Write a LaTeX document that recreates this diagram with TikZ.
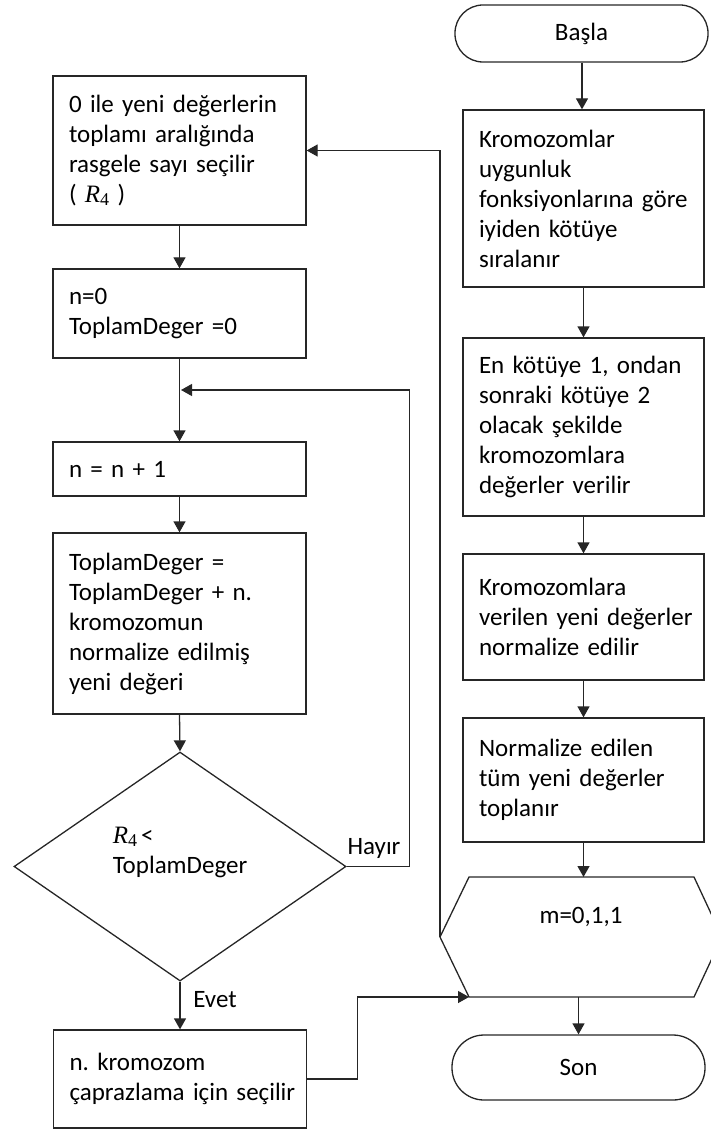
\documentclass[tikz,border=0pt]{standalone}
\usepackage{fontspec}
\setmainfont{Carlito}[WordSpace=0.8]
\newfontfamily\serifit{Liberation Serif}[WordSpace=0.8]
\usetikzlibrary{arrows.meta,shapes.geometric}
\newcommand\flowfont{\fontsize{25}{30}\selectfont}
% italic R with subscript 4, set like an equation object
\newcommand\Rfour{{\serifit\itshape R}\raisebox{-0.3ex}{\serifit\fontsize{18}{18}\selectfont 4}}
\hyphenpenalty=10000
\exhyphenpenalty=10000
\begin{document}
\begin{tikzpicture}[x=1pt,y=-1pt,
  line/.style={draw=black!85, line width=1.3pt},
  arr/.style={line, -{Triangle[length=11pt,width=12pt]}},
  procbox/.style={line, rectangle, align=left, inner xsep=16pt, inner ysep=0pt, font=\flowfont},
  leftbox/.style={procbox, text width=221pt},
  rightbox/.style={procbox, text width=209pt},
  terminal/.style={line, rectangle, font=\flowfont},
  plain/.style={inner sep=0pt, font=\flowfont, align=left}
]
\useasboundingbox (0,0) rectangle (711,1131);

% right column
\node[terminal, rounded corners=28pt, minimum width=253pt, minimum height=57pt] (start) at (581.5,33.5) {Başla};
\node[rightbox, minimum height=177pt] (r1) at (583.5,198.5) {Kromozomlar\\uygunluk\\fonksiyonlarına~göre\\iyiden~kötüye\\sıralanır};
\node[rightbox, minimum height=178pt] (r2) at (583.5,427) {En~kötüye~1,~ondan\\sonraki~kötüye~2\\olacak~şekilde\\kromozomlara\\değerler~verilir};
\node[rightbox, minimum height=126pt] (r3) at (583.5,617) {Kromozomlara\\verilen~yeni~değerler\\normalize~edilir};
\node[rightbox, minimum height=124pt] (r4) at (583.5,780) {Normalize~edilen\\tüm~yeni~değerler\\toplanır};

% loop hexagon
\coordinate (hl)  at (440,937);
\coordinate (htl) at (469,877);
\coordinate (htr) at (694,877);
\coordinate (hr)  at (722,937);
\coordinate (hbr) at (694,997);
\coordinate (hbl) at (469,997);
\draw[line] (hl) -- (htl) -- (htr) -- (hr) -- (hbr) -- (hbl) -- cycle;
\node[plain] (hex) at (581,917) {m=0,1,1};

\node[terminal, rounded corners=32pt, minimum width=253pt, minimum height=65pt] (stop) at (578.5,1067.5) {Son};

% left column
\node[leftbox, minimum height=149pt] (l1) at (179.5,150.5) {0~ile~yeni~değerlerin\\toplamı~aralığında\\rasgele~sayı~seçilir\\( \Rfour\ )};
\node[leftbox, minimum height=89pt] (l2) at (179.5,313.5) {n=0\\ToplamDeger~=0};
\node[leftbox, minimum height=54pt] (l3) at (179.5,469) {n~=~n~+~1};
\node[leftbox, minimum height=181pt] (l4) at (179.5,623.5) {ToplamDeger~=\\ToplamDeger~+~n.\\kromozomun\\normalize~edilmiş\\yeni~değeri};
\node[line, diamond, inner sep=0pt, minimum width=332pt, minimum height=229pt, aspect=1.45] (dia) at (180,866.5) {};
\node[plain] (dtext) at (180,852) {\Rfour\,<\\ToplamDeger};
\node[leftbox, minimum height=98pt] (l5) at (180,1079) {n.~kromozom\\çaprazlama~için~seçilir};

\coordinate (loopin) at (181,390);

% connectors, right column
\draw[arr] (start.south -| 582,0) -- (r1.north -| 582,0);
\draw[arr] (r1.south) -- (r2.north);
\draw[arr] (r2.south) -- (r3.north);
\draw[arr] (r3.south) -- (r4.north);
\draw[arr] (r4.south) -- (r4.south |- htl);
\draw[arr] (hbl -| stop.north) -- (stop.north);
\draw[arr] (hl) |- (l1.east);

% connectors, left column
\draw[arr] (l1.south) -- (l2.north);
\draw[arr] (l2.south) -- (l3.north);
\draw[arr] (l3.south) -- (l4.north);
\draw[arr] (l4.south) -- (dia.north);
\draw[arr] (dia.east) -- ++(63,0) |- (loopin);
\draw[arr] (dia.south) -- (l5.north);
\draw[arr] (l5.east) -- ++(50,0) |- (hbl);

% branch labels
\node[plain] (no) at (374,848) {Hayır};
\node[plain] (yes) at (215,1000) {Evet};
\end{tikzpicture}
\end{document}
